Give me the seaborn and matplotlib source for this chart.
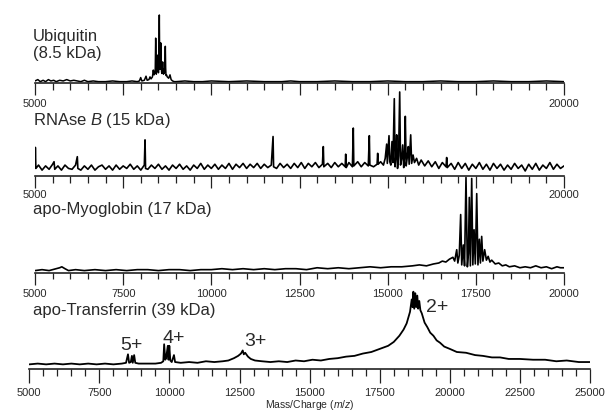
import numpy as np
import matplotlib.pyplot as plt
import seaborn as sns

# MALDI mass spectra of four proteins, stacked panels

sns.set_theme(style="ticks")
plt.rcParams['font.family'] = ['Liberation Sans', 'DejaVu Sans']
plt.rcParams['mathtext.fontset'] = 'custom'
plt.rcParams['mathtext.rm'] = 'Liberation Sans'
plt.rcParams['mathtext.it'] = 'Liberation Sans:italic'

# 1. Data (relative intensity, % of tallest peak in each panel)
ubq_mz = [5000, 5080, 5150, 5230, 5300, 5380, 5450, 5530, 5600, 5700,
          5800, 5900, 6000, 6100, 6200, 6300, 6400, 6500, 6650, 6800,
          7000, 7200, 7400, 7600, 7750, 7900, 7960, 7997, 8030, 8100,
          8148, 8180, 8230, 8261, 8290, 8330, 8355, 8375, 8400, 8410,
          8422, 8440, 8450, 8460, 8470, 8480, 8500, 8510, 8525, 8535,
          8545, 8555, 8565, 8580, 8590, 8600, 8610, 8620, 8632, 8645,
          8655, 8670, 8680, 8695, 8705, 8715, 8730, 8750, 8790, 8828,
          8860, 8900, 8950, 9000, 9250, 9500, 9750, 10000, 10500, 11000,
          11500, 12000, 12250, 12500, 13000, 13500, 14000, 14500, 15000, 15500,
          16000, 16500, 17000, 17500, 18000, 18500, 19000, 19500, 20000]
ubq_int = [3, 5, 2, 4, 2, 5, 3, 4, 2, 4,
           3, 5, 3, 4, 3, 2, 4, 2, 3, 2,
           2, 3, 2, 2, 3, 2, 3, 8, 3, 4,
           10, 4, 5, 9, 6, 9, 19, 12, 15, 21,
           66, 13, 25, 18, 22, 41, 15, 28, 100, 35,
           20, 24, 59, 30, 16, 14, 20, 31, 18, 13,
           20, 15, 17, 54, 22, 11, 12, 9, 7, 12,
           5, 3, 2, 2, 3, 2, 2, 3, 2, 3,
           2, 2, 3, 2, 2, 3, 2, 2, 3, 2,
           2, 3, 2, 2, 3, 2, 2, 3, 2]

rnase_mz = [5000, 5010, 5025, 5100, 5200, 5300, 5400, 5500, 5540, 5560,
            5650, 5750, 5850, 5950, 6050, 6150, 6200, 6215, 6300, 6400,
            6500, 6600, 6700, 6800, 6900, 7000, 7100, 7200, 7300, 7400,
            7500, 7600, 7700, 7800, 7900, 8000, 8100, 8120, 8135, 8200,
            8300, 8400, 8500, 8600, 8700, 8800, 8900, 9000, 9100, 9200,
            9300, 9400, 9500, 9600, 9700, 9800, 9900, 10000, 10100, 10200,
            10300, 10400, 10500, 10600, 10700, 10800, 10900, 11000, 11100, 11200,
            11300, 11400, 11500, 11600, 11700, 11750, 11765, 11850, 11950, 12050,
            12150, 12250, 12350, 12450, 12550, 12650, 12750, 12850, 12950, 13050,
            13150, 13175, 13190, 13300, 13400, 13500, 13600, 13700, 13795, 13810, 13825,
            13900, 14000, 14025, 14040, 14150, 14250, 14350, 14450, 14480, 14495,
            14600, 14700, 14717, 14730, 14800, 14880, 14930, 14972, 14990, 15038, 15060,
            15090, 15123, 15150, 15188, 15210, 15230, 15256, 15280, 15310, 15341,
            15365, 15395, 15426, 15455, 15480, 15500, 15525, 15555, 15585, 15610,
            15653, 15680, 15720, 15760, 15820, 15880, 15950, 16050, 16150, 16250,
            16350, 16450, 16550, 16655, 16673, 16690, 16800, 16900, 17000, 17100, 17200,
            17300, 17400, 17500, 17600, 17700, 17800, 17900, 18000, 18100, 18200,
            18300, 18400, 18500, 18600, 18700, 18800, 18900, 19000, 19100, 19200,
            19300, 19400, 19500, 19600, 19700, 19800, 19900, 20000]
rnase_int = [10, 34, 9, 13, 7, 12, 8, 14, 17, 8,
             12, 7, 13, 9, 8, 13, 23, 9, 7, 12,
             8, 13, 7, 11, 13, 8, 12, 7, 13, 8,
             12, 9, 14, 8, 12, 7, 13, 43, 9, 8,
             13, 9, 14, 8, 12, 7, 13, 9, 14, 8,
             12, 7, 13, 9, 15, 8, 13, 9, 14, 8,
             13, 9, 15, 8, 14, 10, 15, 9, 14, 10,
             15, 9, 14, 10, 13, 47, 11, 9, 15, 10,
             14, 9, 15, 10, 16, 9, 15, 11, 16, 10,
             14, 35, 11, 15, 10, 16, 11, 15, 11, 26, 10,
             16, 11, 57, 12, 17, 11, 16, 12, 48, 13,
             11, 14, 27, 14, 17, 13, 21, 38, 15, 48, 17,
             13, 41, 16, 92, 11, 22, 49, 9, 24, 100,
             13, 20, 37, 10, 25, 71, 12, 22, 35, 14,
             49, 15, 25, 16, 21, 13, 19, 12, 18, 11,
             17, 9, 16, 11, 22, 10, 15, 8, 16, 9, 15,
             7, 14, 9, 16, 8, 14, 7, 15, 9, 14,
             7, 13, 8, 15, 9, 13, 6, 14, 8, 15,
             7, 13, 9, 16, 8, 14, 9, 12]

myo_mz = [5000, 5200, 5400, 5600, 5700, 5760, 5850, 5950, 6150, 6400,
          6700, 7000, 7300, 7600, 7900, 8200, 8500, 8800, 9100, 9400,
          9700, 10000, 10300, 10600, 10900, 11200, 11500, 11800, 12100, 12400,
          12700, 13000, 13300, 13600, 13900, 14200, 14500, 14800, 15100, 15400,
          15700, 15900, 16100, 16300, 16450, 16550, 16650, 16750, 16850, 16900,
          16958, 16990, 17030, 17070, 17100, 17145, 17180, 17221, 17260, 17290,
          17315, 17345, 17383, 17415, 17450, 17485, 17525, 17560, 17600, 17630,
          17666, 17700, 17750, 17800, 17850, 17900, 17950, 18050, 18150, 18250,
          18350, 18450, 18600, 18750, 18900, 19050, 19200, 19350, 19500, 19650,
          19800, 19900, 20000]
myo_int = [2, 3, 2, 4, 5, 6, 4, 2, 3, 2,
           3, 2, 3, 2, 3, 3, 2, 3, 3, 2,
           3, 3, 4, 3, 4, 3, 4, 3, 4, 4,
           3, 5, 4, 5, 4, 5, 6, 5, 6, 6,
           7, 8, 7, 9, 10, 12, 11, 14, 16, 12,
           24, 10, 18, 61, 8, 29, 7, 100, 6, 20,
           79, 7, 99, 8, 45, 9, 83, 8, 35, 10,
           38, 12, 24, 13, 17, 11, 13, 9, 10, 7,
           8, 6, 7, 5, 6, 5, 7, 5, 6, 4,
           6, 5, 5]

tf_mz = [5000, 5300, 5600, 5900, 6200, 6500, 6800, 7100, 7400, 7700,
         8000, 8300, 8450, 8520, 8560, 8620, 8660, 8690, 8740, 8780,
         8900, 9200, 9500, 9700, 9780, 9810, 9850, 9880, 9940, 9965,
         9995, 10030, 10080, 10160, 10200, 10400, 10700, 11000, 11300, 11600,
         11900, 12100, 12300, 12450, 12550, 12612, 12650, 12700, 12800, 12900,
         13050, 13300, 13600, 13900, 14200, 14500, 14800, 15100, 15400, 15700,
         16000, 16300, 16600, 16900, 17200, 17500, 17800, 18000, 18200, 18350,
         18460, 18580, 18640, 18670, 18700, 18730, 18770, 18800, 18840, 18870,
         18910, 18950, 19000, 19100, 19200, 19300, 19415, 19530, 19650, 19800,
         20000, 20250, 20580, 20900, 21175, 21500, 21790, 22100, 22500, 22970,
         23400, 23800, 24170, 24600, 25000]
tf_int = [6, 7, 6, 7, 6, 7, 6, 7, 6, 7,
          6, 7, 8, 19, 8, 9, 17, 8, 18, 8,
          7, 7, 7, 8, 10, 32, 12, 14, 30, 12,
          30, 11, 9, 18, 9, 8, 9, 8, 10, 9,
          10, 11, 14, 17, 20, 24, 19, 21, 16, 13,
          11, 10, 9, 10, 9, 11, 10, 12, 11, 13,
          14, 16, 17, 20, 22, 26, 30, 35, 43, 51,
          59, 74, 90, 80, 100, 78, 98, 80, 95, 78,
          88, 76, 72, 60, 54, 47, 43, 37, 34, 29,
          26, 22, 21, 18, 17, 15, 15, 13, 13, 12,
          12, 10, 11, 9, 9]

panel_names = ['Ubiquitin\n(8.5 kDa)', 'RNAse $B$ (15 kDa)',
               'apo-Myoglobin (17 kDa)', 'apo-Transferrin (39 kDa)']

ticks_20k = [5000, 7500, 10000, 12500, 15000, 17500, 20000]
labels_ends = ['5000', '', '', '', '', '', '20000']
labels_20k = ['5000', '7500', '10000', '12500', '15000', '17500', '20000']
ticks_25k = [5000, 7500, 10000, 12500, 15000, 17500, 20000, 22500, 25000]
labels_25k = ['5000', '7500', '10000', '12500', '15000', '17500', '20000', '22500', '25000']

charge_labels = ['5+', '4+', '3+', '2+']
charge_mz = [8660, 10160, 13050, 19540]
charge_y = [30, 40, 36, 80]

# 2. Figure
W, H = 605, 411
fig = plt.figure(figsize=(W / 100, H / 100), dpi=100)
txt = '#2a2a2a'


def add_panel(x0, x1, y_axis, y_top, xmax, ticks, labels, pad, maj_len, min_len):
    # y_top = pixel row of the 100 % level; 10 % headroom above it
    h = (y_axis - y_top) * 1.1
    ax = fig.add_axes([x0 / W, 1 - y_axis / H, (x1 - x0) / W, h / H])
    ax.patch.set_alpha(0)
    ax.set_xlim(5000, xmax)
    ax.set_ylim(0, 110)
    for s in ['top', 'left', 'right']:
        ax.spines[s].set_visible(False)
    ax.spines['bottom'].set_linewidth(1.2)
    ax.spines['bottom'].set_color('#222222')
    ax.set_yticks([])
    ax.set_xticks(ticks)
    ax.set_xticklabels(labels)
    ax.set_xticks(np.arange(5000, xmax + 1, 500), minor=True)
    ax.tick_params(axis='x', which='major', direction='out', length=maj_len,
                   width=0.9, color='#222222', pad=pad, labelsize=8, labelcolor=txt)
    ax.tick_params(axis='x', which='minor', direction='out', length=min_len,
                   width=0.9, color='#222222')
    return ax


ax1 = add_panel(35, 564, 83, 15, 20000, ticks_20k, labels_ends, 3.0, 8.6, 5)
ax2 = add_panel(35, 564, 176, 92, 20000, ticks_20k, labels_ends, 1.5, 8.6, 5)
ax3 = add_panel(35, 564, 272.5, 177.5, 20000, ticks_20k, labels_20k, 3.0, 8.6, 4)
ax4 = add_panel(29.3, 590, 369, 291.7, 25000, ticks_25k, labels_25k, 3.8, 10, 5)

series = [(ax1, ubq_mz, ubq_int, 1.1), (ax2, rnase_mz, rnase_int, 1.2),
          (ax3, myo_mz, myo_int, 1.2), (ax4, tf_mz, tf_int, 1.3)]
for ax, mz, inten, lw in series:
    sns.lineplot(x=mz, y=inten, ax=ax, color='black', lw=lw,
                 estimator=None, sort=False)
    ax.set_xlabel('')
    ax.set_ylabel('')

# panel titles
name_y = [45, 121, 209, 311]
for name, y in zip(panel_names, name_y):
    fig.text(33 / W, 1 - y / H, name, ha='left', va='center',
             fontsize=12, color=txt)

# charge state labels on transferrin
for lab, x, y in zip(charge_labels, charge_mz, charge_y):
    ax4.text(x, y, lab, ha='center', va='center', fontsize=14, color=txt)

fig.text(309.5 / W, 1 - 404.8 / H, 'Mass/Charge ($m/z$)', ha='center',
         va='center', fontsize=7.5, color=txt)

fig.savefig('out.png', dpi=100)
